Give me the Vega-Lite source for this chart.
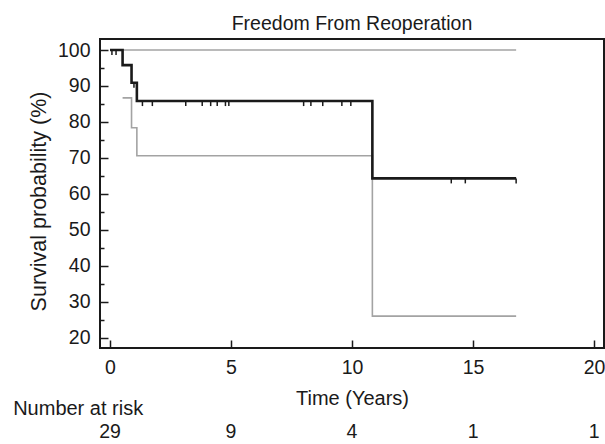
{
  "$schema": "https://vega.github.io/schema/vega-lite/v6.json",
  "autosize": {"type": "pad"},
  "padding": {"left": 13, "top": 12, "right": 0, "bottom": 0},
  "background": "white",
  "config": {"font": "Liberation Sans", "view": {"stroke": null}},
  "datasets": {
    "curves": [
      {"curve": "upper", "t": 0, "s": 100},
      {"curve": "upper", "t": 16.78, "s": 100},
      {"curve": "lower", "t": 0.52, "s": 86.7},
      {"curve": "lower", "t": 0.89, "s": 78.4},
      {"curve": "lower", "t": 1.11, "s": 70.6},
      {"curve": "lower", "t": 10.84, "s": 26.0},
      {"curve": "lower", "t": 16.78, "s": 26.0},
      {"curve": "km", "t": 0, "s": 100},
      {"curve": "km", "t": 0.52, "s": 95.8},
      {"curve": "km", "t": 0.89, "s": 90.9},
      {"curve": "km", "t": 1.11, "s": 85.8},
      {"curve": "km", "t": 10.84, "s": 64.3},
      {"curve": "km", "t": 16.78, "s": 64.3}
    ],
    "censored": [
      {"t": 0.08, "s": 100},
      {"t": 0.25, "s": 100},
      {"t": 0.99, "s": 90.9},
      {"t": 1.34, "s": 85.8},
      {"t": 1.75, "s": 85.8},
      {"t": 3.13, "s": 85.8},
      {"t": 3.81, "s": 85.8},
      {"t": 4.16, "s": 85.8},
      {"t": 4.43, "s": 85.8},
      {"t": 4.77, "s": 85.8},
      {"t": 4.91, "s": 85.8},
      {"t": 8.0, "s": 85.8},
      {"t": 8.3, "s": 85.8},
      {"t": 8.79, "s": 85.8},
      {"t": 9.58, "s": 85.8},
      {"t": 9.95, "s": 85.8},
      {"t": 14.1, "s": 64.3},
      {"t": 14.68, "s": 64.3},
      {"t": 16.78, "s": 64.3}
    ],
    "risk": [
      {"t": 0, "n": 29},
      {"t": 5, "n": 9},
      {"t": 10, "n": 4},
      {"t": 15, "n": 1},
      {"t": 20, "n": 1}
    ]
  },
  "bounds": "flush",
  "spacing": 74,
  "vconcat": [
    {
      "width": 504,
      "height": 309,
      "view": {"stroke": "#1a1a1a", "strokeWidth": 2},
      "title": {"text": "Freedom From Reoperation", "fontSize": 19.5, "fontWeight": "normal", "color": "#1a1a1a", "anchor": "middle", "baseline": "alphabetic", "offset": -10},
      "resolve": {"axis": {"y": "independent"}},
      "layer": [
        {
          "data": {"name": "curves"},
          "transform": [{"filter": "datum.curve !== 'km'"}],
          "mark": {"type": "line", "interpolate": "step-after", "color": "#a3a3a3", "strokeWidth": 1.6},
          "encoding": {
            "x": {"field": "t", "type": "quantitative",
              "scale": {"domain": [-0.413, 20.41], "nice": false, "zero": false},
              "axis": {"values": [0, 5, 10, 15, 20], "title": "Time (Years)", "grid": false, "domain": false,
                "tickSize": -8, "tickColor": "#1a1a1a", "tickWidth": 1.5,
                "labelFontSize": 19.5, "labelColor": "#1a1a1a", "labelPadding": 18, "labelFlush": false, "labelOverlap": false,
                "titleFontSize": 20, "titleFontWeight": "normal", "titleColor": "#1a1a1a", "titlePadding": 12}},
            "y": {"field": "s", "type": "quantitative",
              "scale": {"domain": [17.14, 103.06], "nice": false, "zero": false},
              "axis": {"orient": "left", "values": [20, 30, 40, 50, 60, 70, 80, 90, 100],
                "title": "Survival probability (%)", "grid": false, "domain": false,
                "tickSize": -8, "tickColor": "#1a1a1a", "tickWidth": 1.5,
                "labelFontSize": 19.5, "labelColor": "#1a1a1a", "labelPadding": 18, "labelOverlap": false, "labelBound": false,
                "titleFontSize": 21.5, "titleFontWeight": "normal", "titleColor": "#1a1a1a", "titlePadding": 7, "titleY": 162}},
            "detail": {"field": "curve", "type": "nominal"}
          }
        },
        {
          "data": {"name": "curves"},
          "transform": [{"filter": "datum.curve === 'km'"}],
          "mark": {"type": "line", "interpolate": "step-after", "color": "#1a1a1a", "strokeWidth": 2.6},
          "encoding": {
            "x": {"field": "t", "type": "quantitative"},
            "y": {"field": "s", "type": "quantitative",
              "axis": {"orient": "left", "values": [25, 35, 45, 55, 65, 75, 85, 95],
                "labels": false, "title": null, "grid": false, "domain": false,
                "tickSize": -4, "tickColor": "#1a1a1a", "tickWidth": 1.5}}
          }
        },
        {
          "data": {"name": "censored"},
          "mark": {"type": "point", "shape": "M0,0L0,1", "size": 100, "filled": false, "color": "#1a1a1a", "strokeWidth": 1.5, "opacity": 1},
          "encoding": {
            "x": {"field": "t", "type": "quantitative"},
            "y": {"field": "s", "type": "quantitative", "axis": null}
          }
        }
      ]
    },
    {
      "width": 504,
      "height": 20,
      "data": {"name": "risk"},
      "title": {"text": "Number at risk", "anchor": "start", "dx": -86, "fontSize": 20, "fontWeight": "normal", "color": "#1a1a1a", "baseline": "middle", "offset": -7},
      "mark": {"type": "text", "fontSize": 19.5, "color": "#1a1a1a", "baseline": "middle"},
      "encoding": {
        "x": {"field": "t", "type": "quantitative", "scale": {"domain": [-0.413, 20.41], "nice": false, "zero": false}, "axis": null},
        "text": {"field": "n", "type": "quantitative"}
      }
    }
  ]
}
